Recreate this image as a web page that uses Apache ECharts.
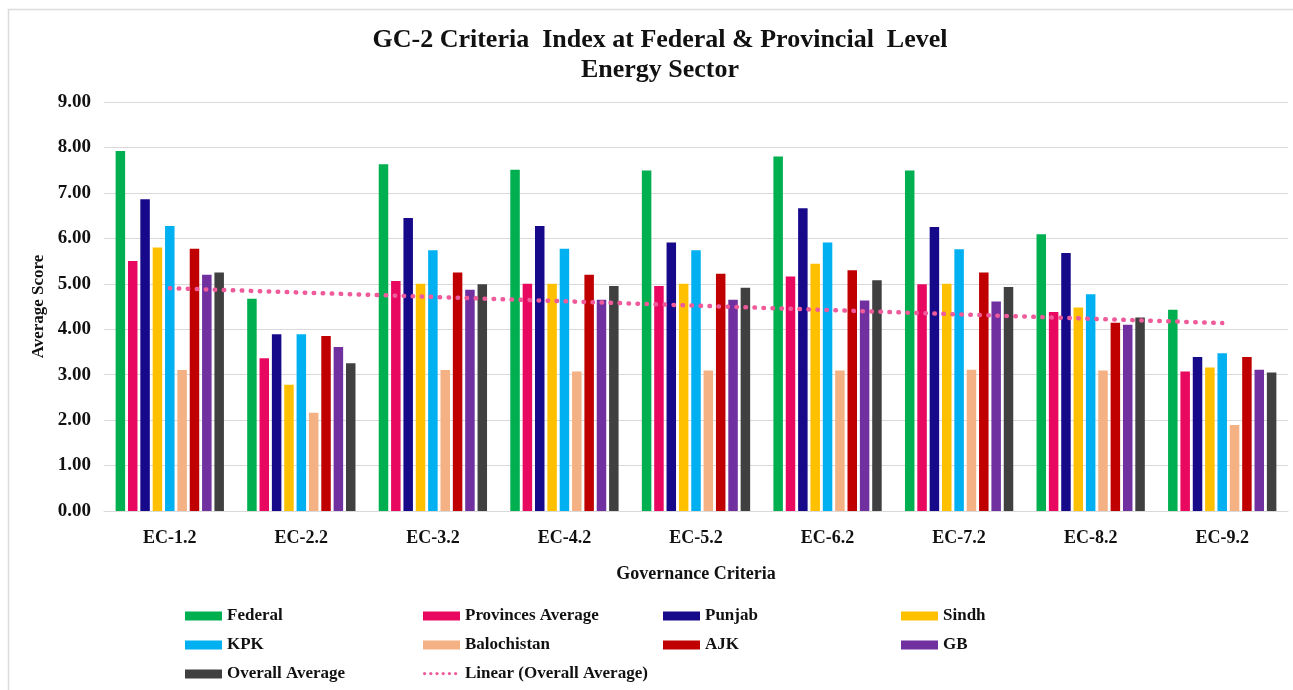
<!DOCTYPE html>
<html>
<head>
<meta charset="utf-8">
<title>GC-2 Criteria Index - Energy Sector</title>
<script src="https://cdn.jsdelivr.net/npm/echarts@6/dist/echarts.min.js"></script>
<style>
  html, body { margin: 0; padding: 0; background: #ffffff; }
  #chart { width: 1293px; height: 690px; }
</style>
</head>
<body>
<div id="chart"></div>
<script>
// Governance criteria (x-axis categories)
const categories = ['EC-1.2', 'EC-2.2', 'EC-3.2', 'EC-4.2', 'EC-5.2', 'EC-6.2', 'EC-7.2', 'EC-8.2', 'EC-9.2'];

// Average scores per jurisdiction
const federal      = [7.92, 4.67, 7.63, 7.51, 7.49, 7.80, 7.49, 6.09, 4.43];
const provincesAvg = [5.50, 3.36, 5.06, 5.00, 4.95, 5.16, 4.99, 4.38, 3.07];
const punjab       = [6.86, 3.89, 6.45, 6.27, 5.91, 6.66, 6.25, 5.68, 3.39];
const sindh        = [5.80, 2.78, 5.00, 5.00, 5.00, 5.44, 5.00, 4.48, 3.16];
const kpk          = [6.27, 3.89, 5.74, 5.77, 5.74, 5.91, 5.76, 4.77, 3.47];
const balochistan  = [3.10, 2.16, 3.10, 3.07, 3.09, 3.09, 3.11, 3.09, 1.89];
const ajk          = [5.77, 3.85, 5.25, 5.20, 5.22, 5.30, 5.25, 4.14, 3.39];
const gb           = [5.20, 3.61, 4.87, 4.65, 4.65, 4.63, 4.61, 4.10, 3.11];
const overallAvg   = [5.25, 3.25, 4.99, 4.95, 4.91, 5.08, 4.93, 4.26, 3.05];

// Y-axis ticks
const yTicks = [0, 1, 2, 3, 4, 5, 6, 7, 8, 9];

// Least-squares linear trend of the overall average
function linearTrend(values) {
  const n = values.length;
  const xs = values.map((_, i) => i + 1);
  const mx = xs.reduce((a, b) => a + b, 0) / n;
  const my = values.reduce((a, b) => a + b, 0) / n;
  let sxy = 0, sxx = 0;
  for (let i = 0; i < n; i++) {
    sxy += (xs[i] - mx) * (values[i] - my);
    sxx += (xs[i] - mx) * (xs[i] - mx);
  }
  const slope = sxy / sxx;
  return xs.map(x => +(my + slope * (x - mx)).toFixed(4));
}
const overallTrend = linearTrend(overallAvg);

const serif = '"Liberation Serif", "Times New Roman", serif';
const trendColor = '#EE5A9A';

const barSeries = [
  { name: 'Federal',           data: federal,      color: '#00B050' },
  { name: 'Provinces Average', data: provincesAvg, color: '#E8085F' },
  { name: 'Punjab',            data: punjab,       color: '#170A8A' },
  { name: 'Sindh',             data: sindh,        color: '#FFC000' },
  { name: 'KPK',               data: kpk,          color: '#00B0F0' },
  { name: 'Balochistan',       data: balochistan,  color: '#F4B183' },
  { name: 'AJK',               data: ajk,          color: '#C00000' },
  { name: 'GB',                data: gb,           color: '#7030A0' },
  { name: 'Overall Average',   data: overallAvg,   color: '#404040' }
].map(s => ({
  name: s.name,
  type: 'bar',
  data: s.data,
  barWidth: 9.5,
  barGap: '30%',
  itemStyle: { color: s.color },
  emphasis: { disabled: true }
}));

const trendSeries = {
  name: 'Linear (Overall Average)',
  type: 'line',
  data: overallTrend,
  symbol: 'none',
  z: 5,
  itemStyle: { color: trendColor },
  lineStyle: { color: trendColor, width: 4.5, type: [0.5, 8.5], cap: 'round' },
  emphasis: { disabled: true }
};

// Legend: 4 columns x 3 rows, one legend component per entry
const legendCols = [185, 423, 663, 901];
const legendRows = [616, 645, 674];
const legendLayout = [
  ['Federal', 0, 0], ['Provinces Average', 1, 0], ['Punjab', 2, 0], ['Sindh', 3, 0],
  ['KPK', 0, 1], ['Balochistan', 1, 1], ['AJK', 2, 1], ['GB', 3, 1],
  ['Overall Average', 0, 2], ['Linear (Overall Average)', 1, 2]
];
const legendText = { fontFamily: serif, fontWeight: 'bold', fontSize: 17, color: '#111', lineHeight: 20 };
const legends = legendLayout.map(([name, c, r]) => ({
  orient: 'horizontal',
  left: legendCols[c],
  top: legendRows[r] - 10,
  itemWidth: 37,
  itemHeight: 9,
  itemGap: 0,
  padding: 0,
  selectedMode: false,
  textStyle: legendText,
  data: [name === 'Linear (Overall Average)'
    ? { name: name, icon: 'rect', itemStyle: { opacity: 0 } }
    : { name: name, icon: 'rect' }]
}));

const chart = echarts.init(document.getElementById('chart'), null, { renderer: 'canvas' });
chart.setOption({
  animation: false,
  backgroundColor: '#ffffff',
  title: {
    text: 'GC-2 Criteria  Index at Federal & Provincial  Level\nEnergy Sector',
    left: 655,
    textAlign: 'center',
    top: 20,
    textStyle: { fontFamily: serif, fontWeight: 'bold', fontSize: 26, color: '#111', lineHeight: 30 }
  },
  legend: legends,
  grid: { left: 104, right: 5, top: 102, bottom: 179, containLabel: false },
  xAxis: {
    type: 'category',
    data: categories,
    name: 'Governance Criteria',
    nameLocation: 'middle',
    nameGap: 54,
    nameTextStyle: { fontFamily: serif, fontWeight: 'bold', fontSize: 18, color: '#111' },
    axisLine: { lineStyle: { color: '#d9d9d9', width: 1 } },
    axisTick: { show: false },
    axisLabel: { fontFamily: serif, fontWeight: 'bold', fontSize: 18, color: '#111', margin: 18 }
  },
  yAxis: {
    type: 'value',
    min: yTicks[0],
    max: yTicks[yTicks.length - 1],
    interval: 1,
    name: 'Average Score',
    nameLocation: 'middle',
    nameGap: 55,
    nameRotate: 90,
    nameTextStyle: { fontFamily: serif, fontWeight: 'bold', fontSize: 17, color: '#111' },
    axisLine: { show: false },
    axisTick: { show: false },
    splitLine: { lineStyle: { color: '#d9d9d9', width: 1 } },
    axisLabel: {
      fontFamily: serif, fontWeight: 'bold', fontSize: 19, color: '#111', margin: 13,
      formatter: v => v.toFixed(2)
    }
  },
  graphic: [
    {
      type: 'rect',
      silent: true,
      z: -1,
      shape: { x: 8.5, y: 9.5, width: 1300, height: 700 },
      style: { fill: 'none', stroke: '#dcdcdc', lineWidth: 1.5 }
    },
    {
      // dotted swatch for the trend-line legend entry
      type: 'group',
      left: legendCols[1],
      top: legendRows[2] - 2,
      children: [0, 1, 2, 3, 4, 5].map(i => ({
        type: 'circle',
        shape: { cx: 3 + i * 6.2, cy: 0, r: 1.6 },
        style: { fill: trendColor }
      }))
    }
  ],
  series: [...barSeries, trendSeries]
});
</script>
</body>
</html>
